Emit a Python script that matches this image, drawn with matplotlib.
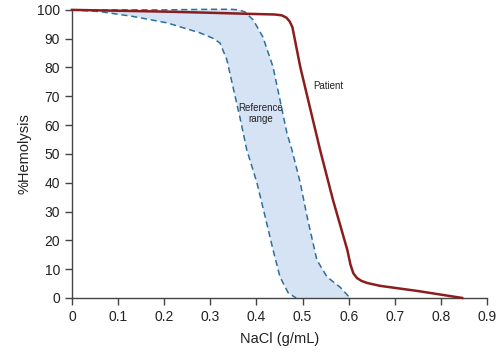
import numpy as np
import matplotlib
matplotlib.use('Agg')
import matplotlib.pyplot as plt

plt.rcParams['font.family'] = ['Liberation Sans', 'DejaVu Sans']

# patient curve
patient_x = [0, 0.1, 0.2, 0.3, 0.39, 0.44, 0.455, 0.465, 0.472, 0.478, 0.495, 0.512,
             0.538, 0.566, 0.597, 0.604, 0.610, 0.618, 0.628, 0.640, 0.668, 0.75, 0.846]
patient_y = [100, 99.7, 99.4, 99.0, 98.6, 98.4, 98.1, 97.3, 96.0, 94.0, 80.2, 68.8,
             51.4, 34.0, 16.7, 11.5, 8.6, 6.9, 5.9, 5.2, 4.2, 2.4, 0]

# reference range, right (upper) boundary
ref_hi_x = [0, 0.1, 0.2, 0.3, 0.345, 0.362, 0.375, 0.393, 0.414, 0.436, 0.451, 0.466,
            0.477, 0.495, 0.51, 0.531, 0.553, 0.581, 0.603]
ref_hi_y = [100, 100, 100, 100.2, 100.2, 100, 99.3, 96.5, 90.6, 80.2, 68.8, 57.3,
            51.4, 40, 28.1, 13.2, 7.3, 3.8, 0]

# reference range, left (lower) boundary
ref_lo_x = [0, 0.061, 0.133, 0.206, 0.278, 0.305, 0.321, 0.336, 0.349, 0.364, 0.379,
            0.401, 0.419, 0.436, 0.451, 0.469, 0.486]
ref_lo_y = [100, 99.4, 97.7, 95.5, 92.0, 90.2, 88.5, 82.6, 73.3, 62.8, 51.4,
            40, 28.1, 16.7, 7.3, 1.7, 0]

red = '#8c1d1d'
blue = '#2f6f9c'
fill = '#d5e3f5'

fig = plt.figure(figsize=(5, 3.53), dpi=100)
ax = fig.add_axes([0.144, 0.156, 0.830, 0.816])

ax.fill(np.r_[ref_hi_x, ref_lo_x[::-1]], np.r_[ref_hi_y, ref_lo_y[::-1]],
        color=fill, lw=0, clip_on=False)
ax.plot(ref_hi_x, ref_hi_y, color=blue, lw=1.1, dashes=(4, 2.5), clip_on=False)
ax.plot(ref_lo_x, ref_lo_y, color=blue, lw=1.1, dashes=(4, 2.5), clip_on=False)
ax.plot(patient_x, patient_y, color=red, lw=1.8, clip_on=False, zorder=3,
        solid_joinstyle='round')

ax.text(0.523, 73.6, 'Patient', fontsize=7, ha='left', va='center', color='#222222')
ax.text(0.41, 64, 'Reference\nrange', fontsize=7, ha='center', va='center',
        color='#222222', linespacing=1.1)

ax.set_xlim(0, 0.9)
ax.set_ylim(0, 100)
ax.set_xticks(np.arange(0, 0.91, 0.1))
ax.set_xticklabels(['0', '0.1', '0.2', '0.3', '0.4', '0.5', '0.6', '0.7', '0.8', '0.9'])
ax.set_yticks(np.arange(0, 101, 10))
ax.set_xlabel('NaCl (g/mL)', fontsize=10.5, color='#222222', labelpad=6)
ax.set_ylabel('%Hemolysis', fontsize=10.5, color='#222222', labelpad=4)

for side in ('top', 'right'):
    ax.spines[side].set_visible(False)
for side in ('left', 'bottom'):
    ax.spines[side].set_color('#444444')
    ax.spines[side].set_linewidth(1.0)
ax.tick_params(length=5, width=1, color='#444444', labelsize=10, labelcolor='#222222')

plt.savefig('out.png', dpi=100)
plt.close()
